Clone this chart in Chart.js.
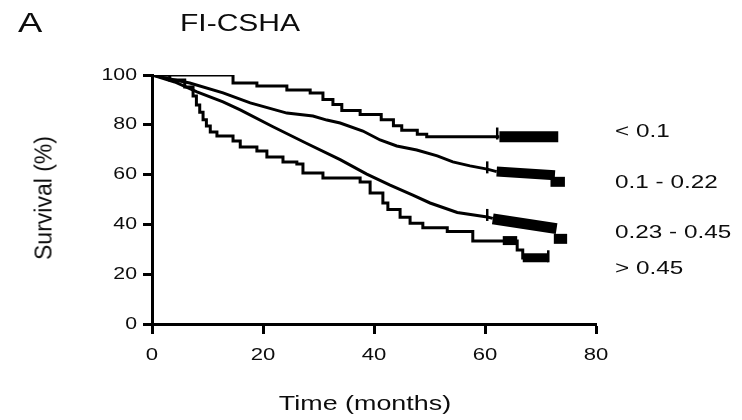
<!DOCTYPE html>
<html>
<head>
<meta charset="utf-8">
<script src="https://cdn.jsdelivr.net/npm/chart.js@4.4.1/dist/chart.umd.min.js"></script>
<style>
  body { margin: 0; background: #fff; }
  #wrap { position: relative; width: 742px; height: 420px; font-family: "Liberation Sans", Arial, sans-serif; color: #0d0d0d; }
  .lbl { position: absolute; white-space: nowrap; line-height: 1; transform-origin: 0 50%; }
</style>
</head>
<body>
<div id="wrap">
  <canvas id="km" width="742" height="420"></canvas>
  <div class="lbl" style="left:18px;top:23px;font-size:27px;transform:translate(0,-50%) scaleX(1.35)">A</div>
  <div class="lbl" style="left:180px;top:23px;font-size:24px;transform:translate(0,-50%) scaleX(1.25)">FI-CSHA</div>
  <div class="lbl" style="left:615px;top:131px;font-size:18px;transform:translate(0,-50%) scaleX(1.35)">&lt; 0.1</div>
  <div class="lbl" style="left:615px;top:182px;font-size:18px;transform:translate(0,-50%) scaleX(1.35)">0.1 - 0.22</div>
  <div class="lbl" style="left:615px;top:232px;font-size:18px;transform:translate(0,-50%) scaleX(1.35)">0.23 - 0.45</div>
  <div class="lbl" style="left:615px;top:268px;font-size:18px;transform:translate(0,-50%) scaleX(1.35)">&gt; 0.45</div>
  <div class="lbl" style="left:365px;top:402px;font-size:21px;transform-origin:50% 50%;transform:translate(-50%,-50%) scaleX(1.28)">Time (months)</div>
  <div class="lbl" style="left:44px;top:198px;font-size:23px;transform-origin:50% 50%;transform:translate(-50%,-50%) rotate(-90deg)">Survival (%)</div>
</div>
<script>
// Kaplan-Meier curves per FI-CSHA group (time in months, survival in %)
const g1Time = [0, 14.6, 18.9, 24.3, 28.5, 30.8, 32.6, 34.2, 37.5, 41.3, 43.5, 45, 47.8, 49.5, 62.6];
const g1Surv = [100, 96.8, 95.6, 94.0, 92.8, 90.2, 88.2, 85.7, 84.1, 82, 79.6, 77.8, 76.2, 75.2, 75.2];

const g2Time = [0, 3, 6.8, 12.8, 17.7, 24.3, 29, 31.5, 33.9, 38, 41.1, 44.1, 47.7, 51.4, 54.2, 57.3, 60.4, 62.1];
const g2Surv = [100, 98.5, 96.8, 92.8, 88.8, 84.7, 83.5, 81.9, 80.7, 77.5, 73.9, 71.5, 69.9, 67.5, 65.1, 63.5, 62.2, 61.2];

const g3Time = [0, 4.1, 8.1, 12.8, 15.9, 21.8, 27.9, 33.9, 38.7, 42.9, 47, 50.1, 55, 60.4, 61.4];
const g3Surv = [100, 97.2, 93.2, 89.2, 86, 79.2, 72.5, 66, 60.2, 55.8, 51.8, 48.6, 44.8, 43, 42.4];

const g4Time = [0, 3.2, 5.9, 7.4, 8.0, 8.6, 9.2, 9.8, 10.5, 11.7, 14.6, 15.9, 18.9, 20.7, 23.6, 26.1, 27.2, 30.8, 37.5, 39.3, 41.6, 42.5, 44.7, 46.5, 48.8, 53.2, 57.8, 65.8, 66.8, 71.4];
const g4Surv = [100, 98, 95.2, 91.6, 88, 85, 82, 79.5, 77.1, 75.5, 73.5, 71.1, 69.5, 67.1, 65.1, 64.3, 60.6, 58.6, 57.0, 52.6, 48.6, 46, 42.9, 40.5, 38.7, 37.1, 33.3, 29.7, 26.5, 26.5];

// dense censoring (many tick marks merging into blocks)
const g1CensX = [62.6, 73.2];  const g1CensY = [75.2, 75.2];
const g2CensX = [62.1, 72.6];  const g2CensY = [61.2, 59.7];
const g2EndX  = [71.8, 74.4];  const g2EndY  = [57.1, 57.1];
const g3CensX = [61.4, 72.9];  const g3CensY = [42.2, 38.3];
const g3EndX  = [72.4, 74.8];  const g3EndY  = [34.2, 34.2];
const g4CensX = [63.2, 65.8];  const g4CensY = [33.5, 33.5];
const g4EndX  = [66.8, 71.4];  const g4EndY  = [26.6, 26.6];

// single censor marks
const markX = [62.2, 60.4, 60.4, 71.4];
const markY = [76.5, 62.9, 43.8, 27.2];

const groupLabels = ['< 0.1', '0.1 - 0.22', '0.23 - 0.45', '> 0.45'];
const xTicks = [0, 20, 40, 60, 80];
const yTicks = [0, 20, 40, 60, 80, 100];

const pts = (xs, ys) => xs.map((x, i) => ({ x: x, y: ys[i] }));

function curve(label, xs, ys, stepped) {
    return { label: label, data: pts(xs, ys), stepped: stepped, borderColor: '#000', borderWidth: 3, pointRadius: 0, fill: false };
}
function block(xs, ys, w) {
    return { label: 'censored', data: pts(xs, ys), borderColor: '#000', borderWidth: w, borderCapStyle: 'butt', pointRadius: 0, fill: false };
}

// tick labels drawn by hand so they can be widened like the source figure
const tickText = {
    id: 'tickText',
    afterDraw(chart) {
        const ctx = chart.ctx;
        const xs = chart.scales.x, ys = chart.scales.y;
        ctx.save();
        ctx.fillStyle = '#0d0d0d';
        ctx.font = '17px "Liberation Sans", Arial, sans-serif';
        ctx.textBaseline = 'middle';
        ctx.textAlign = 'right';
        yTicks.forEach(v => {
            ctx.save();
            ctx.translate(137, ys.getPixelForValue(v));
            ctx.scale(1.25, 1);
            ctx.fillText(String(v), 0, 0);
            ctx.restore();
        });
        ctx.textAlign = 'center';
        xTicks.forEach(v => {
            ctx.save();
            ctx.translate(xs.getPixelForValue(v), 355);
            ctx.scale(1.3, 1);
            ctx.fillText(String(v), 0, 0);
            ctx.restore();
        });
        ctx.restore();
    }
};

new Chart(document.getElementById('km'), {
    type: 'line',
    data: {
        datasets: [
            curve(groupLabels[0], g1Time, g1Surv, true),
            curve(groupLabels[1], g2Time, g2Surv, false),
            curve(groupLabels[2], g3Time, g3Surv, false),
            curve(groupLabels[3], g4Time, g4Surv, true),
            block(g1CensX, g1CensY, 11),
            block(g2CensX, g2CensY, 10),
            block(g2EndX, g2EndY, 10),
            block(g3CensX, g3CensY, 11),
            block(g3EndX, g3EndY, 10),
            block(g4CensX, g4CensY, 9),
            block(g4EndX, g4EndY, 9),
            { type: 'scatter', label: 'marks', data: pts(markX, markY), pointStyle: 'line', rotation: 90,
              pointRadius: 6, borderColor: '#000', borderWidth: 2.5, showLine: false }
        ]
    },
    options: {
        responsive: false,
        animation: false,
        layout: { padding: { top: 75, right: 146, left: 0, bottom: 0 } },
        plugins: { legend: { display: false }, tooltip: { enabled: false } },
        scales: {
            x: {
                type: 'linear', min: 0, max: 80,
                ticks: { display: false, stepSize: 20 },
                grid: { drawOnChartArea: false, tickLength: 10, tickWidth: 3, color: '#000' },
                border: { color: '#000', width: 3 },
                afterFit(s) { s.height = 96; }
            },
            y: {
                min: 0, max: 100,
                ticks: { display: false, stepSize: 20 },
                grid: { drawOnChartArea: false, tickLength: 9, tickWidth: 3, color: '#000' },
                border: { color: '#000', width: 3 },
                afterFit(s) { s.width = 152; }
            }
        }
    },
    plugins: [tickText]
});
</script>
</body>
</html>
